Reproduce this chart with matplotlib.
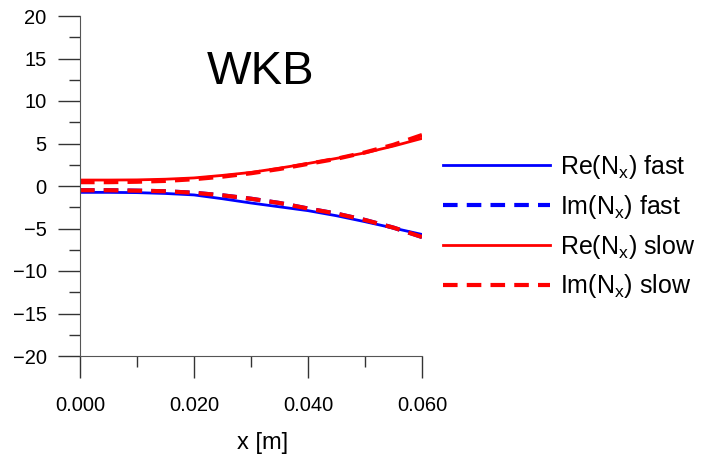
import matplotlib.pyplot as plt

# данные
x = [0.000, 0.005, 0.010, 0.015, 0.020, 0.025, 0.030, 0.035, 0.040, 0.045, 0.050, 0.055, 0.060]
re_fast = [-0.75, -0.75, -0.78, -0.88, -1.05, -1.50, -2.00, -2.45, -2.90, -3.50, -4.20, -4.95, -5.70]
im_fast = [-0.50, -0.50, -0.55, -0.62, -0.80, -1.10, -1.50, -2.00, -2.65, -3.25, -4.00, -4.90, -6.00]
re_slow = [0.70, 0.70, 0.72, 0.80, 0.95, 1.25, 1.60, 2.10, 2.65, 3.25, 3.90, 4.70, 5.60]
im_slow = [0.45, 0.45, 0.50, 0.60, 0.80, 1.10, 1.50, 2.00, 2.60, 3.20, 3.95, 4.85, 6.00]
im_slow_neg = [-0.50, -0.50, -0.55, -0.62, -0.80, -1.10, -1.50, -2.00, -2.65, -3.25, -4.00, -4.90, -6.00]

plt.rcParams['font.family'] = ['Liberation Sans', 'DejaVu Sans']
plt.rcParams['mathtext.fontset'] = 'custom'
plt.rcParams['mathtext.rm'] = 'Liberation Sans'

fig = plt.figure(figsize=(7.09, 4.59), dpi=100)
ax = fig.add_axes([80 / 709, 103 / 459, 342 / 709, 340 / 459])

ax.plot(x, re_fast, color='blue', lw=2, label=r'Re(N$_\mathrm{x}$) fast')
ax.plot(x, im_fast, color='blue', lw=3, dashes=(3.5, 2.2), label=r'Im(N$_\mathrm{x}$) fast')
ax.plot(x, re_slow, color='red', lw=2, label=r'Re(N$_\mathrm{x}$) slow')
ax.plot(x, im_slow, color='red', lw=3, dashes=(3.5, 2.2), label=r'Im(N$_\mathrm{x}$) slow')
ax.plot(x, im_slow_neg, color='red', lw=3, dashes=(3.5, 2.2))

ax.set_xlim(0, 0.06)
ax.set_ylim(-20, 20)
ax.set_xticks([0, 0.02, 0.04, 0.06])
ax.set_xticklabels(['0.000', '0.020', '0.040', '0.060'])
ax.set_xticks([0.01, 0.03, 0.05], minor=True)
ax.set_yticks(range(-20, 21, 5))
ax.set_yticks([-17.5, -12.5, -7.5, -2.5, 2.5, 7.5, 12.5, 17.5], minor=True)

for s in ['top', 'right']:
    ax.spines[s].set_visible(False)
for s in ['left', 'bottom']:
    ax.spines[s].set_color('#555555')
ax.tick_params(which='major', length=16, width=1, color='#333333', labelsize=14.5, direction='out')
ax.tick_params(axis='x', which='major', pad=13)
ax.tick_params(axis='y', which='major', pad=8)
ax.tick_params(which='minor', length=8, width=1, color='#333333')

ax.set_xlabel('x [m]', fontsize=17)
ax.xaxis.set_label_coords(0.535, -0.225)
ax.text(0.0316, 13.4, 'WKB', fontsize=34, ha='center', va='center')

ax.legend(loc='center left', bbox_to_anchor=(1.061, 0.38), frameon=False, fontsize=18,
          handlelength=4.3, labelspacing=0.47, handletextpad=0.4, borderpad=0, borderaxespad=0)

plt.savefig('out.png', dpi=100)
